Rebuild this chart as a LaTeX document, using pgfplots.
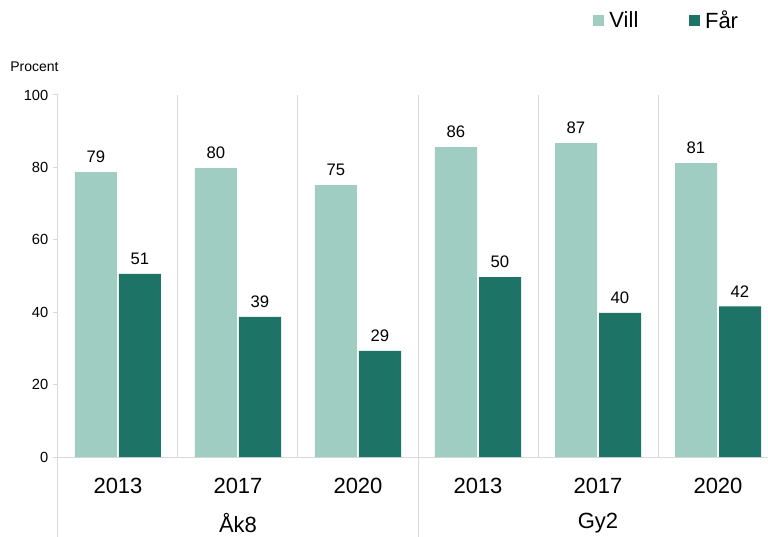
\documentclass[border=0pt]{standalone}
\usepackage{fontspec}
\setmainfont{Liberation Sans}
\usepackage{pgfplots}
\pgfplotsset{compat=1.18}
\definecolor{vill}{HTML}{9FCDC2}
\definecolor{far}{HTML}{1C7366}
\definecolor{sep}{HTML}{D9D9D9}
\begin{document}
\begin{tikzpicture}
\useasboundingbox (-43.5pt,-59.25pt) rectangle (532.5pt,342.75pt);
\begin{axis}[
  at={(0,0)}, anchor=south west,
  scale only axis, width=532.5pt, height=271.5pt,
  xmin=-0.5, xmax=5.4167, ymin=0, ymax=100,
  ybar=1.5pt, bar width=31.5pt,
  axis lines*=left,
  axis line style={sep, line width=0.75pt},
  ytick={0,20,...,100},
  xtick={0,...,5},
  xticklabels={2013,2017,2020,2013,2017,2020},
  tick align=outside,
  major tick length=3.75pt,
  ytick style={sep, line width=0.75pt},
  xtick style={draw=none},
  /pgf/number format/assume math mode=true,
  xticklabel style={font=\fontsize{16.5}{18}\selectfont, anchor=center, yshift=-18pt},
  yticklabel style={font=\fontsize{11}{13}\selectfont},
  nodes near coords,
  nodes near coords style={font=\fontsize{12.5}{14}\selectfont, black, yshift=3.5pt, /pgf/number format/.cd, fixed, precision=0, assume math mode=true},
  legend columns=2,
  legend style={at={(0.9676,1.2486)}, anchor=north east, draw=none, fill=none,
    font=\fontsize{16.5}{18}\selectfont,
    /tikz/every even column/.append style={column sep=36pt}},
  clip=false,
]
\addplot[fill=vill, draw=none, legend image code/.code={\fill[vill] (0pt,-4pt) rectangle (8.25pt,4.25pt); \path (10pt,0pt);}]
  coordinates {(0,78.7) (1,79.8) (2,75.1) (3,85.6) (4,86.7) (5,81.2)};
\addplot[fill=far, draw=none, legend image code/.code={\fill[far] (0pt,-4pt) rectangle (8.25pt,4.25pt); \path (10pt,0pt);}]
  coordinates {(0,50.6) (1,38.7) (2,29.3) (3,49.7) (4,39.8) (5,41.6)};
\legend{Vill, Får}
\draw[sep, line width=0.75pt] (axis cs:0.5,0) -- (axis cs:0.5,100);
\draw[sep, line width=0.75pt] (axis cs:1.5,0) -- (axis cs:1.5,100);
\draw[sep, line width=0.75pt] (axis cs:3.5,0) -- (axis cs:3.5,100);
\draw[sep, line width=0.75pt] (axis cs:4.5,0) -- (axis cs:4.5,100);
\draw[sep, line width=0.75pt] (axis cs:2.5,-22) -- (axis cs:2.5,100);
\draw[sep, line width=0.75pt] (axis cs:-0.5,-22) -- (axis cs:-0.5,0);
\node[font=\fontsize{16.5}{18}\selectfont] at (axis cs:1,0) [yshift=-49.5pt] {Åk8};
\node[font=\fontsize{16.5}{18}\selectfont] at (axis cs:4,0) [yshift=-49.5pt] {Gy2};
\node[anchor=west, font=\fontsize{10.5}{12}\selectfont, inner sep=0pt] at (axis description cs:-0.0676,1.0773) {Procent};
\end{axis}
\end{tikzpicture}
\end{document}
